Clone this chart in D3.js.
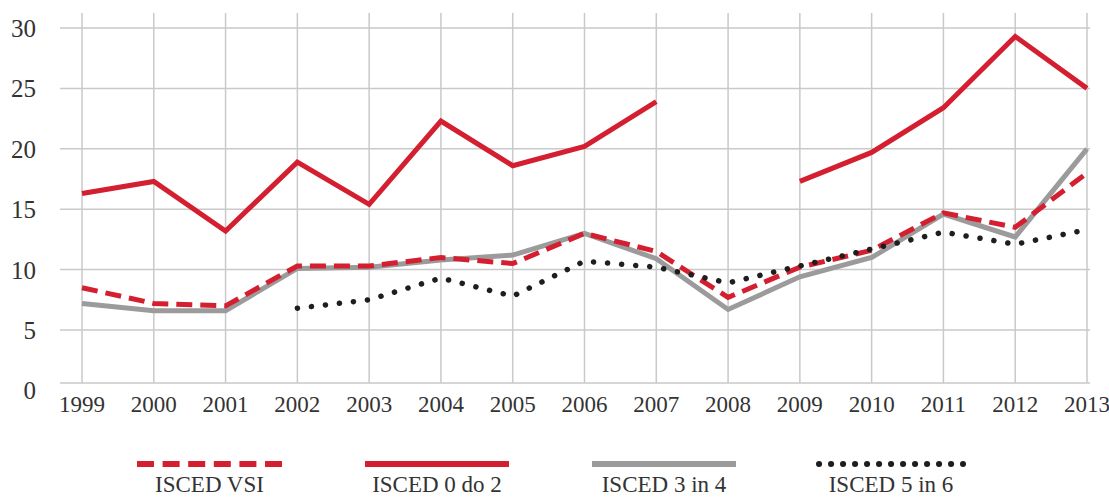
<!DOCTYPE html>
<html>
<head>
<meta charset="utf-8">
<script src="https://cdn.jsdelivr.net/npm/d3@7"></script>
<style>
  html, body { margin: 0; padding: 0; background: #fff; }
</style>
</head>
<body>
<svg id="chart" width="1109" height="499"></svg>
<script>
const years = [1999, 2000, 2001, 2002, 2003, 2004, 2005, 2006, 2007, 2008, 2009, 2010, 2011, 2012, 2013];
const yTicks = [0, 5, 10, 15, 20, 25, 30];

const isced0do2 = [16.3, 17.3, 13.2, 18.9, 15.4, 22.3, 18.6, 20.2, 23.9, null, 17.3, 19.7, 23.4, 29.3, 25.0];
const isced3in4 = [7.2, 6.6, 6.6, 10.1, 10.2, 10.8, 11.2, 13.0, 10.9, 6.7, 9.4, 11.0, 14.6, 12.7, 20.0];
const iscedVSI  = [8.5, 7.2, 7.0, 10.3, 10.3, 11.0, 10.5, 13.0, 11.5, 7.7, 10.2, 11.6, 14.7, 13.5, 18.0];
const isced5in6 = [null, null, null, 6.8, 7.5, 9.3, 7.8, 10.7, 10.2, 8.9, 10.3, 11.7, 13.1, 12.1, 13.3];

const seriesNames = ["ISCED VSI", "ISCED 0 do 2", "ISCED 3 in 4", "ISCED 5 in 6"];

const RED = "#d41f31", GRAY = "#9b9b9b", BLACK = "#1e1e1e", GRID = "#c9c9c9";
const FONT = "'Liberation Serif', 'DejaVu Serif', serif";

const svg = d3.select("#chart");
const plotTop = 13, plotBottom = 383, plotLeft = 60, plotRight = 1090;

const x = d3.scaleLinear().domain([1999, 2013]).range([82, 1087]);
const y = d3.scaleLinear().domain([0, 30]).range([390.4, 28]);

// grid
const g = svg.append("g");
g.selectAll("line.v").data(years).join("line")
  .attr("x1", d => x(d)).attr("x2", d => x(d))
  .attr("y1", plotTop).attr("y2", plotBottom)
  .attr("stroke", GRID).attr("stroke-width", 1.5);
g.selectAll("line.h").data(yTicks).join("line")
  .attr("x1", plotLeft).attr("x2", plotRight)
  .attr("y1", d => d === 0 ? plotBottom : y(d))
  .attr("y2", d => d === 0 ? plotBottom : y(d))
  .attr("stroke", GRID).attr("stroke-width", 1.5);

// y labels
g.selectAll("text.yl").data(yTicks).join("text")
  .attr("x", 36).attr("y", d => y(d) + 9)
  .attr("text-anchor", "end")
  .attr("font-family", FONT)
  .attr("fill", "#333")
  .attr("font-size", 25)
  .text(d => d);

// x labels
g.selectAll("text.xl").data(years).join("text")
  .attr("x", d => x(d)).attr("y", 412)
  .attr("text-anchor", "middle")
  .attr("font-family", FONT)
  .attr("fill", "#333")
  .attr("font-size", 23)
  .text(d => d);

const line = d3.line()
  .defined(d => d.v !== null)
  .x(d => x(d.year)).y(d => y(d.v));

function draw(values, color, width, dash, cap) {
  const data = years.map((yr, i) => ({ year: yr, v: values[i] }));
  svg.append("path").datum(data)
    .attr("d", line)
    .attr("fill", "none")
    .attr("stroke", color)
    .attr("stroke-width", width)
    .attr("stroke-dasharray", dash)
    .attr("stroke-linecap", cap || "butt")
    .attr("stroke-linejoin", "miter");
}

draw(isced0do2, RED, 5, null);
draw(isced3in4, GRAY, 5, null);
draw(iscedVSI, RED, 5, "16,8");
draw(isced5in6, BLACK, 5.5, "0.1,14", "round");

// legend
const legend = [
  { name: seriesNames[0], x1: 137, x2: 282, color: RED, width: 6, dash: "17,8.6", cap: "butt" },
  { name: seriesNames[1], x1: 365, x2: 509, color: RED, width: 6, dash: null, cap: "butt" },
  { name: seriesNames[2], x1: 592, x2: 736, color: GRAY, width: 6, dash: null, cap: "butt" },
  { name: seriesNames[3], x1: 819, x2: 963, color: BLACK, width: 6, dash: "0.1,11.9", cap: "round" }
];
const lg = svg.append("g");
legend.forEach(l => {
  lg.append("line")
    .attr("x1", l.x1).attr("x2", l.x2).attr("y1", 464).attr("y2", 464)
    .attr("stroke", l.color).attr("stroke-width", l.width)
    .attr("stroke-dasharray", l.dash).attr("stroke-linecap", l.cap);
  lg.append("text")
    .attr("x", (l.x1 + l.x2) / 2).attr("y", 492)
    .attr("text-anchor", "middle")
    .attr("font-family", FONT)
    .attr("fill", "#333")
    .attr("font-size", 23)
    .text(l.name);
});
</script>
</body>
</html>
